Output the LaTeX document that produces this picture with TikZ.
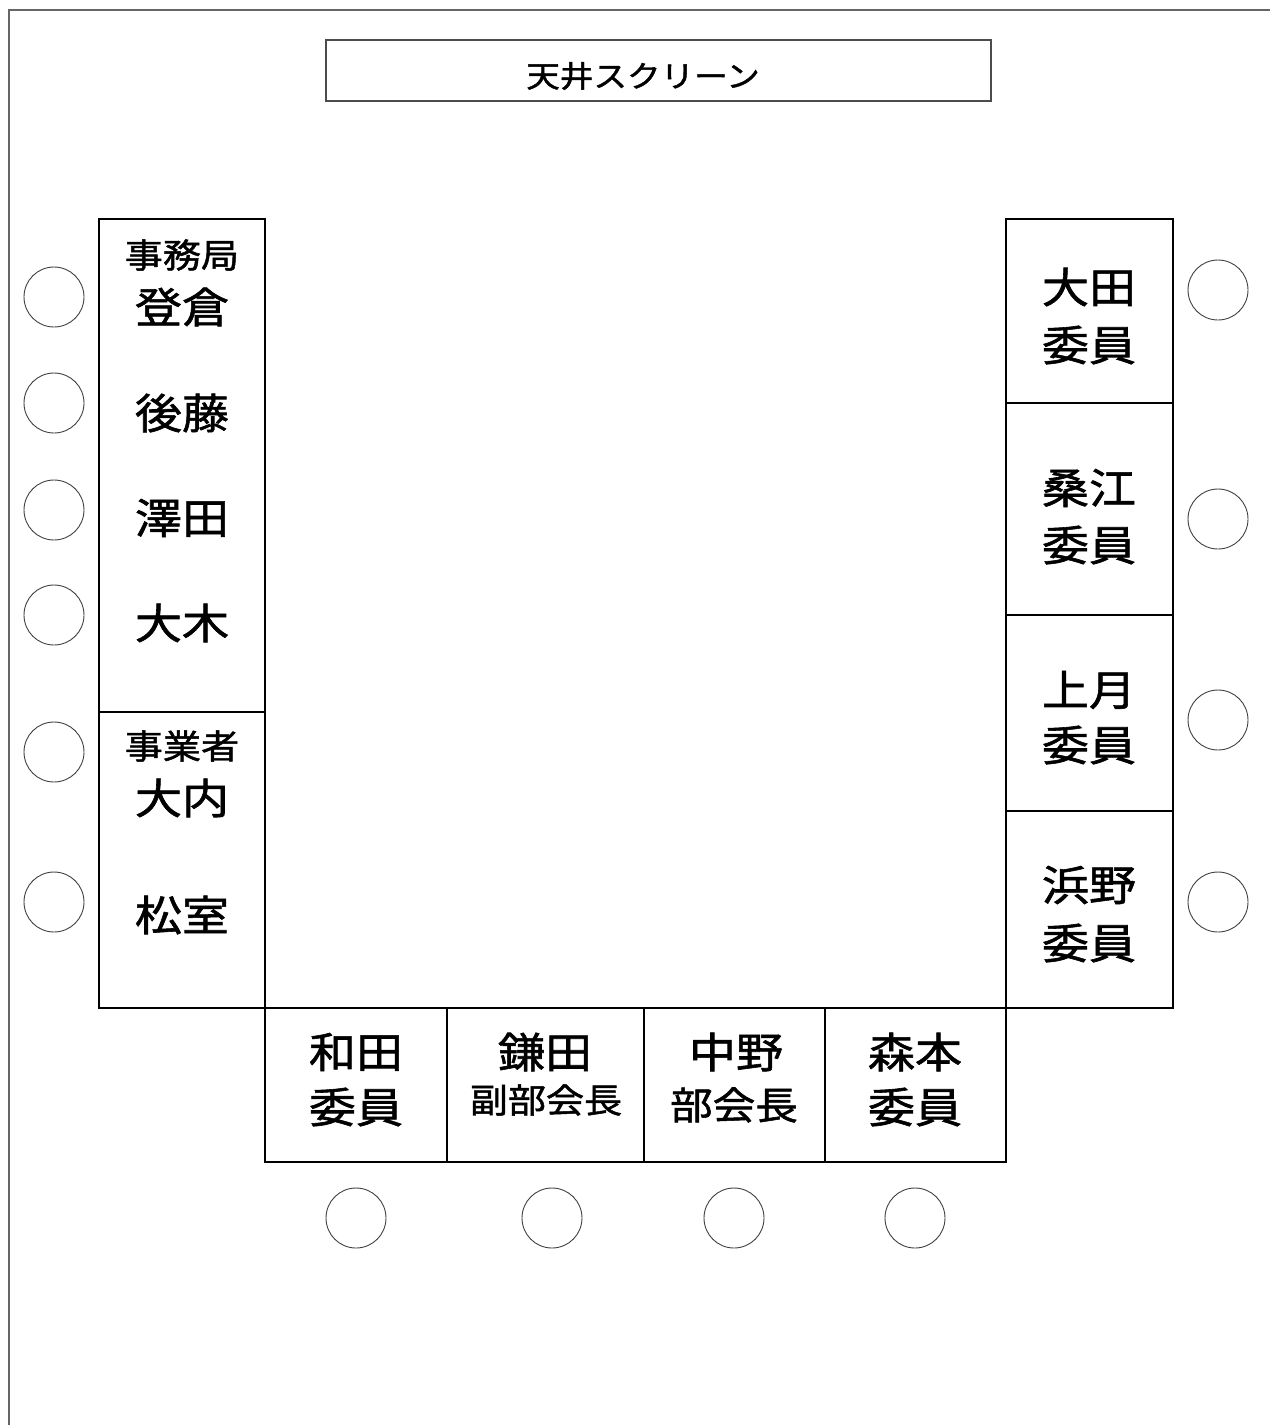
\documentclass[tikz,border=0pt]{standalone}
\usepackage{fontspec}
\newfontfamily\jp[FakeStretch=1.12,FakeBold=1.4]{Noto Sans CJK JP}
\begin{document}
\begin{tikzpicture}[x=1pt,y=-1pt,
  frameline/.style={draw=black!60,line width=1.6pt},
  screenbox/.style={draw=black!70,line width=1.4pt},
  tableline/.style={draw=black,line width=2pt},
  seat/.style={circle,draw=black!75,line width=0.9pt,minimum size=60pt,inner sep=0pt},
  big/.style={font=\jp\fontsize{42}{46}\selectfont,inner sep=0pt},
  small/.style={font=\jp\fontsize{34}{38}\selectfont,inner sep=0pt},
  mid/.style={font=\jp\fontsize{38}{42}\selectfont,inner sep=0pt}]
\useasboundingbox (0,0) rectangle (1270,1425);
% outer frame
\coordinate (fTR) at (1270,10);
\coordinate (fTL) at (9,10);
\coordinate (fBL) at (9,1425);
\draw[frameline] (fTR) -- (fTL) -- (fBL);
% screen
\node[screenbox,minimum width=665pt,minimum height=61pt,inner sep=0pt] (screen) at (658.5,70.5) {};
\node[font=\jp\fontsize{30}{34}\selectfont,inner sep=0pt] (screentxt) at (643,76) {天井スクリーン};
% left table
\draw[tableline] (99,219) rectangle (265,1008);
\draw[tableline] (99,712) -- (265,712);
% right table
\draw[tableline] (1006,219) rectangle (1173,1008);
\draw[tableline] (1006,403) -- (1173,403);
\draw[tableline] (1006,615) -- (1173,615);
\draw[tableline] (1006,811) -- (1173,811);
% bottom table
\draw[tableline] (265,1008) -- (265,1162) -- (1006,1162) -- (1006,1008);
\draw[tableline] (99,1008) -- (1006,1008);
\draw[tableline] (447,1008) -- (447,1162);
\draw[tableline] (644,1008) -- (644,1162);
\draw[tableline] (825,1008) -- (825,1162);
% left labels
\node[small] (jimu) at (182,255) {事務局};
\node[big] (noboku) at (182,307) {登倉};
\node[big] (goto) at (182,413) {後藤};
\node[big] (sawada) at (182,518) {澤田};
\node[big] (oki) at (182,623) {大木};
\node[small] (jigyo) at (182,746) {事業者};
\node[big] (ouchi) at (182,798) {大内};
\node[big] (matsu) at (182,915) {松室};
% right labels
\node[big] (ota) at (1089,287) {大田};
\node[big] (ota2) at (1089,345) {委員};
\node[big] (kuwae) at (1089,488) {桑江};
\node[big] (kuwae2) at (1089,545) {委員};
\node[big] (kozuki) at (1089,690) {上月};
\node[big] (kozuki2) at (1089,745) {委員};
\node[big] (hamano) at (1089,885) {浜野};
\node[big] (hamano2) at (1089,943) {委員};
% bottom labels
\node[big] (wada) at (356,1052) {和田};
\node[big] (wada2) at (356,1107) {委員};
\node[big] (kamata) at (545,1052) {鎌田};
\node[small] (kamata2) at (546,1100) {副部会長};
\node[big] (nakano) at (736,1052) {中野};
\node[mid] (nakano2) at (734,1105) {部会長};
\node[big] (morimoto) at (915,1052) {森本};
\node[big] (morimoto2) at (915,1107) {委員};
% seats left
\node[seat] (sl1) at (54,297) {};
\node[seat] (sl2) at (54,403) {};
\node[seat] (sl3) at (54,510) {};
\node[seat] (sl4) at (54,615) {};
\node[seat] (sl5) at (54,752) {};
\node[seat] (sl6) at (54,902) {};
% seats right
\node[seat] (sr1) at (1218,290) {};
\node[seat] (sr2) at (1218,519) {};
\node[seat] (sr3) at (1218,720) {};
\node[seat] (sr4) at (1218,902) {};
% seats bottom
\node[seat] (sb1) at (356,1218) {};
\node[seat] (sb2) at (552,1218) {};
\node[seat] (sb3) at (734,1218) {};
\node[seat] (sb4) at (915,1218) {};
\end{tikzpicture}
\end{document}
